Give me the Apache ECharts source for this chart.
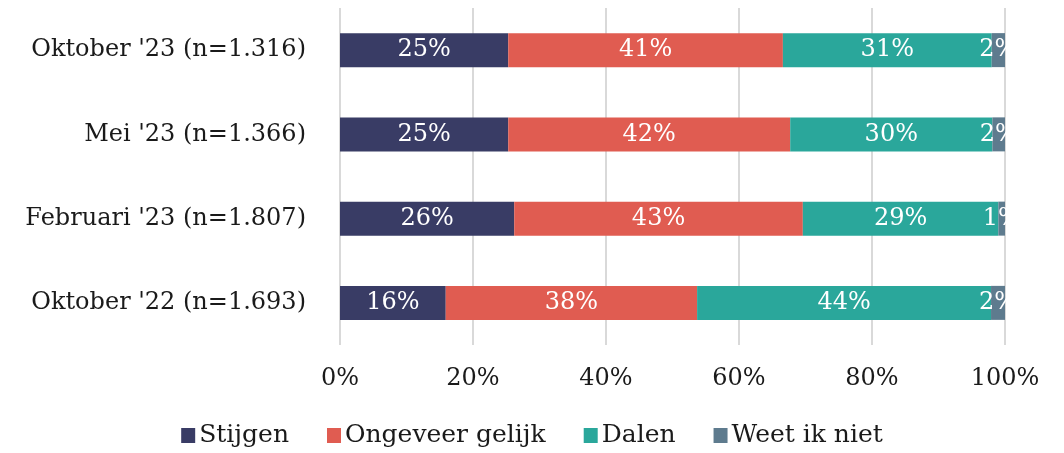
<!DOCTYPE html>
<html>
<head>
<meta charset="utf-8">
<script src="https://cdn.jsdelivr.net/npm/echarts@6/dist/echarts.min.js"></script>
<style>
  html, body { margin: 0; padding: 0; background: #fff; }
  #chart { width: 1064px; height: 453px; }
</style>
</head>
<body>
<div id="chart"></div>
<script>
// categories, bottom to top (category axis draws first item at the bottom)
const categories = ["Oktober '22 (n=1.693)", "Februari '23 (n=1.807)", "Mei '23 (n=1.366)", "Oktober '23 (n=1.316)"];
const seriesNames = ['Stijgen', 'Ongeveer gelijk', 'Dalen', 'Weet ik niet'];
// percentages per series, same order as categories
const stijgen = [15.9, 26.2, 25.3, 25.3];
const gelijk = [37.8, 43.4, 42.4, 41.3];
const dalen = [44.2, 29.4, 30.4, 31.4];
const weetNiet = [2.1, 1.0, 1.9, 2.0];
const tickLabels = ['0%', '20%', '40%', '60%', '80%', '100%'];

const colors = ['#393c65', '#e05c51', '#2aa79b', '#5e7b8e'];
const font = 'DejaVu Serif';

const chart = echarts.init(document.getElementById('chart'));

function makeSeries(name, data, i) {
  return {
    name: name,
    type: 'bar',
    stack: 'total',
    data: data,
    barWidth: 34,
    itemStyle: { color: colors[i] },
    label: {
      show: true,
      position: 'inside',
      color: '#fff',
      fontFamily: font,
      fontSize: 24,
      formatter: function (p) { return Math.round(p.value) + '%' }
    }
  }
}

chart.setOption({
  animation: false,
  textStyle: { fontFamily: font },
  grid: { left: 340, right: 59, top: 8, bottom: 108, containLabel: false },
  legend: {
    bottom: 0,
    left: 'center',
    itemWidth: 14,
    itemHeight: 15,
    itemGap: 38,
    icon: 'rect',
    textStyle: { fontFamily: font, fontSize: 25, color: '#1a1a1a', padding: [0, 0, 0, -1] },
    data: seriesNames
  },
  xAxis: {
    type: 'value',
    min: 0,
    max: 100,
    interval: 20,
    axisLine: { show: false },
    axisTick: { show: false },
    splitLine: { show: true, lineStyle: { color: '#d9d9d9', width: 2 } },
    axisLabel: {
      margin: 22,
      fontFamily: font,
      fontSize: 24,
      color: '#1a1a1a',
      formatter: function (v) { return tickLabels[v / 20] }
    }
  },
  yAxis: {
    type: 'category',
    data: categories,
    axisLine: { show: false },
    axisTick: { show: false },
    axisLabel: { margin: 34, fontFamily: font, fontSize: 24, color: '#1a1a1a' }
  },
  series: [
    makeSeries(seriesNames[0], stijgen, 0),
    makeSeries(seriesNames[1], gelijk, 1),
    makeSeries(seriesNames[2], dalen, 2),
    makeSeries(seriesNames[3], weetNiet, 3)
  ]
});
</script>
</body>
</html>
